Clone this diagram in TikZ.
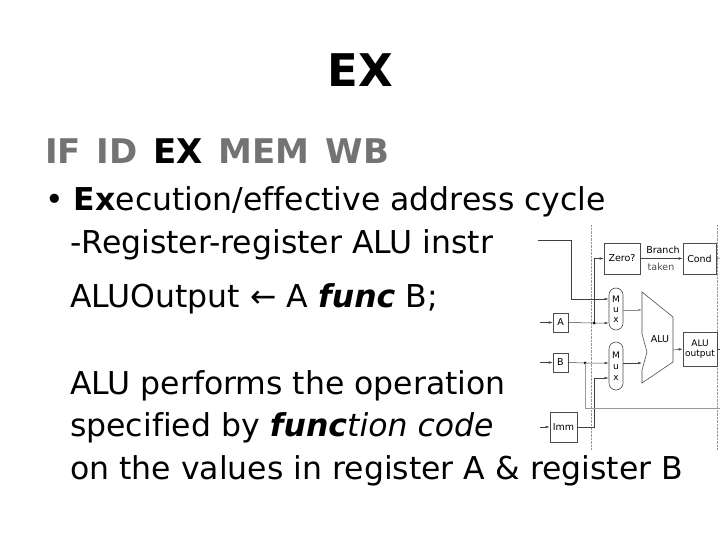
\documentclass[tikz,border=0pt]{standalone}
\usepackage{fontspec}
\setmainfont{DejaVu Sans}[Ligatures=NoCommon]
\usetikzlibrary{arrows.meta}
\begin{document}
\begin{tikzpicture}[x=1pt,y=-1pt,
  txt/.style={anchor=base west,inner sep=0,font=\fontsize{31.5}{34}\selectfont},
  blk/.style={draw=black!70,line width=0.6pt,inner sep=0,font=\fontsize{9.5}{10}\selectfont},
  w/.style={draw=black!75,line width=0.5pt},
  ar/.style={w,-{Latex[length=4pt,width=2.5pt]}},
  dot/.style={circle,fill=black,inner sep=0,minimum size=3pt}]
\useasboundingbox (0,0) rectangle (720,540);
\node[inner sep=0,font=\fontsize{45}{48}\selectfont\bfseries] (title) at (360,70) {EX};
\node[txt,font=\fontsize{34}{36}\selectfont\bfseries] (stages) at (45,164) {\textcolor{black!55}{IF\hspace{4pt} ID}\hspace{4pt} EX\hspace{4pt} \textcolor{black!55}{MEM\hspace{4pt} WB}};
\node[txt] (l1) at (45,211) {• \textbf{Ex}ecution/effective address cycle};
\node[txt] (l2) at (70,254) {-Register-register ALU instr};
\node[txt] (l3) at (70,307) {ALUOutput ← A \textbf{\textit{func}} B;};
\node[txt] (l4) at (70,394) {ALU performs the operation};
\node[txt] (l5) at (70,436) {specified by \textbf{\textit{func}}\textit{tion code}};
\node[txt] (l6) at (70,479) {on the values in register A \& register B};
% diagram
\draw[black!40,densely dotted] (591,225) -- (591,450);
\draw[black!40,densely dotted] (717,225) -- (717,450);
\node[blk,fill=white,minimum width=36,minimum height=31] (zero) at (622,258.5) {Zero?};
\node[blk,fill=white,minimum width=33,minimum height=31] (cond) at (699.5,258.5) {Cond};
\node[blk,fill=white,rounded corners=7,minimum width=14,minimum height=42,align=center,font=\fontsize{9}{10}\selectfont] (mux1) at (616,309) {M\\u\\x};
\node[blk,fill=white,rounded corners=7,minimum width=14,minimum height=48,align=center,font=\fontsize{9}{11}\selectfont] (mux2) at (616,366) {M\\u\\x};
\node[blk,fill=white,minimum width=15,minimum height=19] (a) at (560.5,322.5) {A};
\node[blk,fill=white,minimum width=15,minimum height=19] (b) at (560.5,362.5) {B};
\node[blk,fill=white,minimum width=27,minimum height=30] (imm) at (563.5,427) {Imm};
\node[blk,fill=white,minimum width=34,minimum height=34,align=center,font=\fontsize{9}{10}\selectfont] (aluo) at (700,349) {ALU\\output};
\draw[black!70,line width=0.6pt,fill=white] (642,292) -- (673,317) -- (673,362) -- (642,383) -- (642,370) -- (647,352) -- (642,334) -- cycle;
\node[inner sep=0,font=\fontsize{9.5}{10}\selectfont] (alu) at (660,339) {ALU};
\coordinate (alutop) at (642,310);
\coordinate (aluin) at (642,363);
\coordinate (aluout) at (673,350);
\coordinate (ja) at (594,323);
\coordinate (jb) at (585,363);
\coordinate (t0) at (538,240);
\coordinate (t1) at (571,240);
\coordinate (t2) at (571,299);
\coordinate (ia) at (540,322.5);
\coordinate (ib) at (540,362.5);
\coordinate (ii) at (540,427);
\node[inner sep=0,font=\fontsize{9.5}{10}\selectfont] (br) at (663,250) {Branch};
\node[inner sep=0,font=\fontsize{9.5}{10}\selectfont,text=black!70] (tk) at (661,267) {taken};
\draw[ar] (ia) -- (a.west);
\draw[ar] (ib) -- (b.west);
\draw[ar] (ii) -- (imm.west);
\draw[ar] (t0) -- (t1) -- (t2) -- (mux1.west |- t2);
\draw[ar] (a.east) -- (ja) -- (mux1.west |- ja);
\draw[ar] (ja) |- (zero.west);
\draw[ar] (b.east) -- (jb) -- (mux2.west |- jb);
\draw[ar] (imm.east) -- (594,427) |- (mux2.west |- 0,378);
\node[dot] at (ja) {};
\node[dot] at (jb) {};
\draw[black!40] (jb) -- (585,408) -- (720,408);
\draw[ar,black!45] (mux1.east |- alutop) -- (alutop);
\draw[ar] (mux2.east |- aluin) -- (aluin);
\draw[ar] (aluout) -- (aluo.west);
\draw[ar] (zero.east) -- (cond.west);
\draw[w] (aluo.east) -- (720,349);
\draw[w] (cond.east) -- (720,258);
\end{tikzpicture}
\end{document}
